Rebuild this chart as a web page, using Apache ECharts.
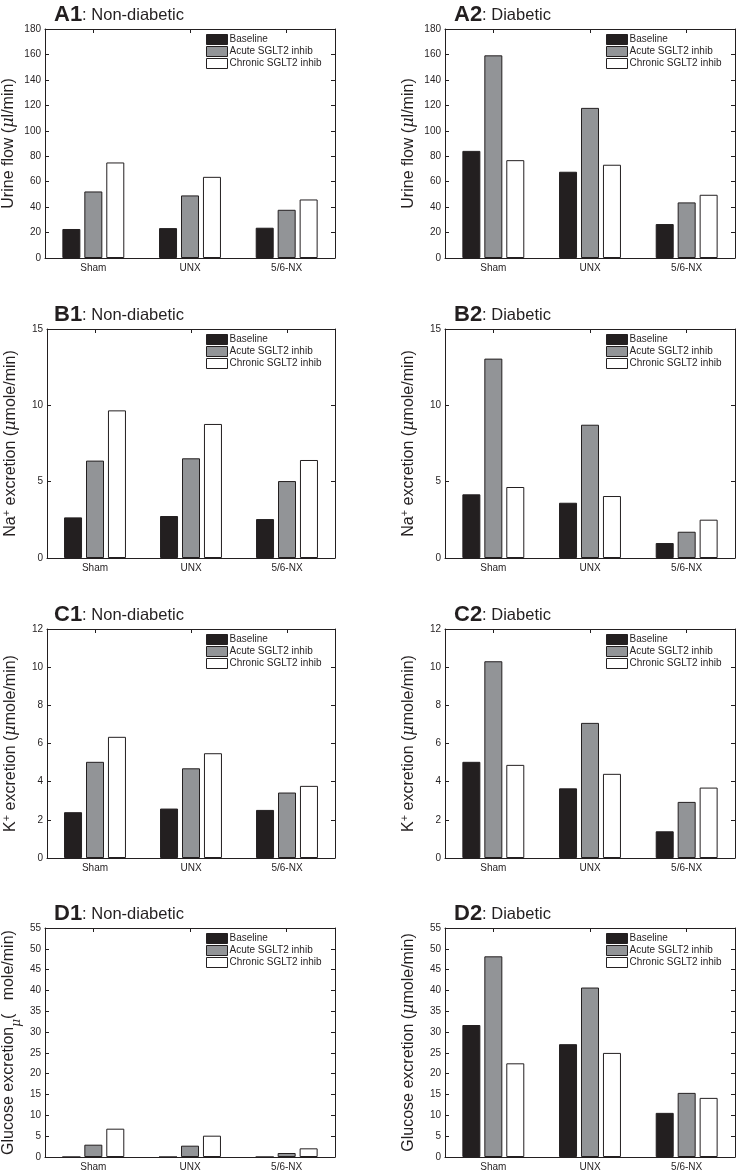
<!DOCTYPE html>
<html>
<head>
<meta charset="utf-8">
<script src="https://cdn.jsdelivr.net/npm/echarts@6/dist/echarts.min.js"></script>
<style>
html,body{margin:0;padding:0;background:#fff;}
#chart{width:736px;height:1174px;}
</style>
</head>
<body>
<div id="chart"></div>
<script>
// ---- data ----
const categories = ['Sham', 'UNX', '5/6-NX'];
const seriesNames = ['Baseline', 'Acute SGLT2 inhib', 'Chronic SGLT2 inhib'];

// A: Urine flow (µl/min)
const a1Baseline = [22.8, 23.5, 23.8];
const a1Acute    = [52.3, 49.2, 37.9];
const a1Chronic  = [75.1, 63.8, 46.0];
const a2Baseline = [84.2, 67.8, 26.7];
const a2Acute    = [159.3, 118.0, 43.7];
const a2Chronic  = [76.9, 73.3, 49.7];

// B: Na+ excretion (µmole/min)
const b1Baseline = [2.66, 2.75, 2.55];
const b1Acute    = [6.38, 6.53, 5.04];
const b1Chronic  = [9.67, 8.78, 6.42];
const b2Baseline = [4.17, 3.62, 0.98];
const b2Acute    = [13.06, 8.73, 1.72];
const b2Chronic  = [4.65, 4.06, 2.51];

// C: K+ excretion (µmole/min)
const c1Baseline = [2.40, 2.59, 2.52];
const c1Acute    = [5.04, 4.70, 3.43];
const c1Chronic  = [6.35, 5.49, 3.78];
const c2Baseline = [5.04, 3.65, 1.40];
const c2Acute    = [10.31, 7.08, 2.94];
const c2Chronic  = [4.88, 4.41, 3.69];

// D: Glucose excretion (µmole/min)
const d1Baseline = [0, 0, 0];
const d1Acute    = [2.96, 2.72, 0.96];
const d1Chronic  = [6.8, 5.12, 2.08];
const d2Baseline = [31.7, 27.1, 10.6];
const d2Acute    = [48.2, 40.7, 15.4];
const d2Chronic  = [22.5, 25.0, 14.2];

// y axis ranges [min, max, interval]
const urineAxis   = [0, 180, 20];
const sodiumAxis  = [0, 15, 5];
const potassAxis  = [0, 12, 2];
const glucoseAxis = [0, 55, 5];

// ---- layout ----
const FONT = '"Liberation Sans", Arial, Helvetica, sans-serif';
const TXT = '#231f20';
const colLeft = [45, 445];
const rowTop = [29, 329, 629, 928];
const gridW = 290, gridH = 229;
const barColors = ['#231f20', '#929497', '#ffffff'];

const nameRich = {
  t:   { fontSize: 16, fontFamily: FONT, color: TXT, lineHeight: 20 },
  sup: { fontSize: 11, fontFamily: FONT, color: TXT, lineHeight: 11, verticalAlign: 'top' },
  m:   { fontSize: 16, fontFamily: '"DejaVu Serif", serif', fontStyle: 'italic', color: TXT, lineHeight: 20 },
  sub: { fontSize: 12, fontFamily: '"DejaVu Serif", serif', fontStyle: 'italic', color: TXT, lineHeight: 12, verticalAlign: 'bottom', padding: [0, 0, -4, 0] }
};

const panels = [
  { key: 'A', n: 1, sub: 'Non-diabetic', name: '{t|Urine flow (}{m|μ}{t|l/min)}', axis: urineAxis, data: [a1Baseline, a1Acute, a1Chronic] },
  { key: 'A', n: 2, sub: 'Diabetic',     name: '{t|Urine flow (}{m|μ}{t|l/min)}', axis: urineAxis, data: [a2Baseline, a2Acute, a2Chronic] },
  { key: 'B', n: 1, sub: 'Non-diabetic', name: '{t|Na}{sup|+}{t| excretion (}{m|μ}{t|mole/min)}', axis: sodiumAxis, data: [b1Baseline, b1Acute, b1Chronic] },
  { key: 'B', n: 2, sub: 'Diabetic',     name: '{t|Na}{sup|+}{t| excretion (}{m|μ}{t|mole/min)}', axis: sodiumAxis, data: [b2Baseline, b2Acute, b2Chronic] },
  { key: 'C', n: 1, sub: 'Non-diabetic', name: '{t|K}{sup|+}{t| excretion (}{m|μ}{t|mole/min)}', axis: potassAxis, data: [c1Baseline, c1Acute, c1Chronic] },
  { key: 'C', n: 2, sub: 'Diabetic',     name: '{t|K}{sup|+}{t| excretion (}{m|μ}{t|mole/min)}', axis: potassAxis, data: [c2Baseline, c2Acute, c2Chronic] },
  { key: 'D', n: 1, sub: 'Non-diabetic', name: '{t|Glucose excretion}{sub|μ}{t|(   mole/min)}', axis: glucoseAxis, data: [d1Baseline, d1Acute, d1Chronic] },
  { key: 'D', n: 2, sub: 'Diabetic',     name: '{t|Glucose excretion (}{m|μ}{t|mole/min)}', axis: glucoseAxis, data: [d2Baseline, d2Acute, d2Chronic] }
];

const grid = [], xAxis = [], yAxis = [], series = [], legend = [], title = [];

panels.forEach((p, i) => {
  const col = p.n - 1;
  const row = Math.floor(i / 2);
  const gl = colLeft[col], gt = rowTop[row];
  grid.push({ left: gl, top: gt, width: gridW, height: gridH, containLabel: false });

  const lineStyle = { color: '#231f20', width: 1 };
  const xBase = {
    type: 'category', gridIndex: i, data: categories,
    axisLine: { show: true, onZero: false, lineStyle },
    axisTick: { show: true, inside: true, alignWithLabel: true, length: 4, lineStyle },
    splitLine: { show: false }
  };
  xAxis.push(Object.assign({}, xBase, {
    position: 'bottom',
    axisLabel: { fontSize: 10, color: TXT, fontFamily: FONT, margin: 5 }
  }));
  xAxis.push(Object.assign({}, xBase, { position: 'top', axisLabel: { show: false } }));

  const yBase = {
    type: 'value', gridIndex: i, min: p.axis[0], max: p.axis[1], interval: p.axis[2],
    axisLine: { show: true, onZero: false, lineStyle },
    axisTick: { show: true, inside: true, length: 4, lineStyle },
    splitLine: { show: false }
  };
  yAxis.push(Object.assign({}, yBase, {
    position: 'left',
    axisLabel: { fontSize: 10, color: TXT, fontFamily: FONT, margin: 4 },
    name: p.name, nameLocation: 'middle', nameGap: 26, nameRotate: 90,
    nameTextStyle: { rich: nameRich }
  }));
  yAxis.push(Object.assign({}, yBase, { position: 'right', axisLabel: { show: false } }));

  seriesNames.forEach((sn, k) => {
    series.push({
      type: 'bar', name: sn, xAxisIndex: 2 * i, yAxisIndex: 2 * i,
      data: p.data[k], barWidth: 18, barGap: '22%',
      itemStyle: { color: barColors[k], borderColor: '#231f20', borderWidth: 1 },
      silent: true, animation: false
    });
  });

  legend.push({
    data: seriesNames, orient: 'vertical', left: gl + 161, top: gt + 5,
    itemWidth: 21, itemHeight: 10, itemGap: 1, icon: 'rect', padding: 0,
    selectedMode: false,
    itemStyle: { borderWidth: 1, borderColor: '#231f20' },
    textStyle: { fontSize: 10, color: TXT, fontFamily: FONT, padding: [0, 0, 0, -3] }
  });

  title.push({
    text: '{b|' + p.key + p.n + '}{s|: ' + p.sub + '}',
    left: col === 0 ? 54 : 454, top: gt - 26, padding: 0,
    textStyle: {
      fontWeight: 'normal',
      rich: {
        b: { fontSize: 22, fontWeight: 'bold', fontFamily: FONT, color: TXT, lineHeight: 24 },
        s: { fontSize: 16.5, fontWeight: 'normal', fontFamily: FONT, color: TXT, lineHeight: 24 }
      }
    }
  });
});

const chart = echarts.init(document.getElementById('chart'), null, { renderer: 'canvas' });
chart.setOption({
  backgroundColor: '#ffffff',
  animation: false,
  title, grid, xAxis, yAxis, series, legend
});
</script>
</body>
</html>
